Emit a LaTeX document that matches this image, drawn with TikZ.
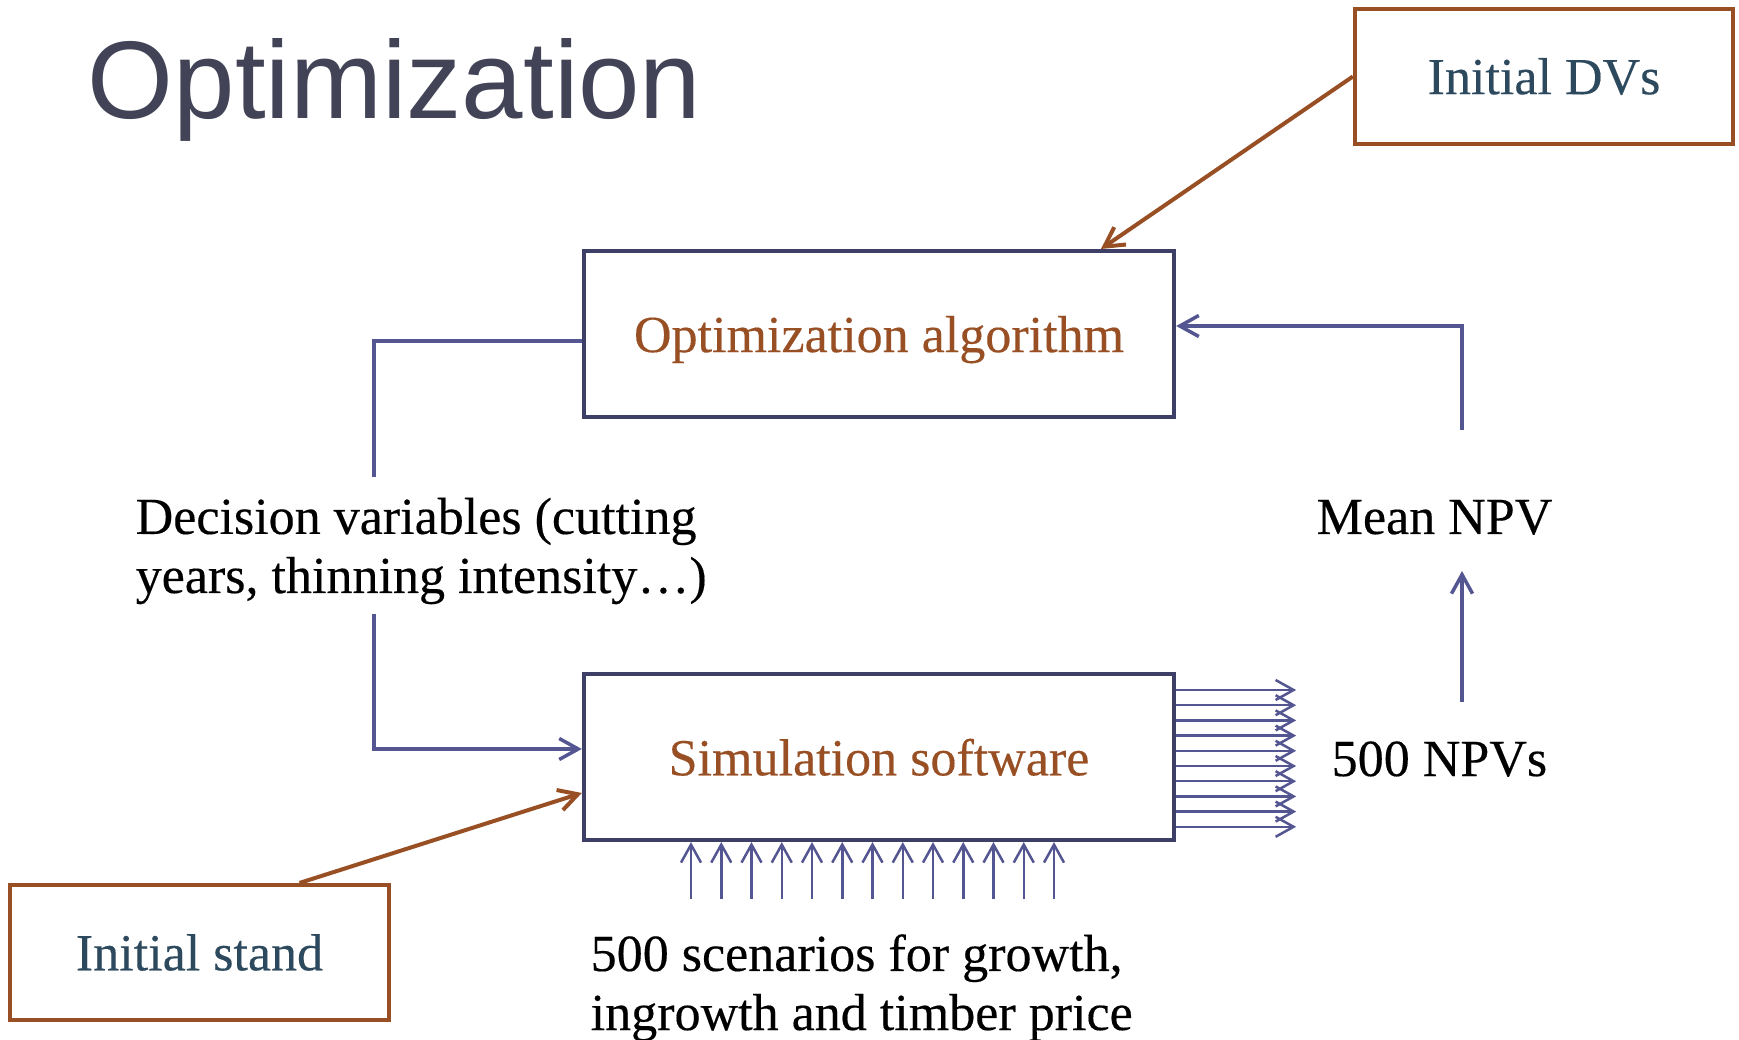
\documentclass[tikz,border=0pt]{standalone}
\usepackage{fontspec}
\setmainfont{Liberation Serif}[UprightFeatures={FakeBold=0.3}]
\newfontfamily\titlefont{Liberation Sans}
\usetikzlibrary{arrows.meta,calc}
\definecolor{titlegray}{RGB}{66,67,86}
\definecolor{navy}{RGB}{62,63,102}
\definecolor{flow}{RGB}{84,86,146}
\definecolor{rust}{RGB}{152,79,36}
\definecolor{slate}{RGB}{44,73,94}

\begin{document}
\begin{tikzpicture}[x=0.01cm, y=-0.01cm,
		every node/.style={font=\fontsize{14.8}{16.8}\selectfont},
		box/.style={draw=navy, line width=0.4mm, minimum width=5.9cm, minimum height=1.66cm, inner sep=0pt, text depth=0pt, text=rust},
		inbox/.style={draw=rust, line width=0.4mm, minimum width=3.78cm, minimum height=1.35cm, inner sep=0pt, text=slate},
		txt/.style={anchor=base west, inner sep=0pt, align=left},
		flowline/.style={draw=flow, line width=0.35mm},
		flowarrow/.style={flowline, -{Straight Barb[length=1.9mm, width=2.1mm]}},
		rustarrow/.style={draw=rust, line width=0.4mm, -{Straight Barb[length=1.9mm, width=2.1mm]}},
		fan/.style={draw=flow, line width=0.25mm, -{Straight Barb[length=1.8mm, width=2mm]}}]
		    \useasboundingbox (0,0) rectangle (1739,1040);

					\node[txt, font=\titlefont\fontsize{31.4}{34}\selectfont, text=titlegray] (title) at (87,119) {Optimization};

					\node[box] (optalg) at (879,334) {Optimization algorithm};
					\node[box] (simsw) at (879,757) {Simulation software};
					\node[inbox] (initdv) at (1544,76.5) {Initial DVs};
					\node[inbox] (initstand) at (199.5,952.5) {Initial stand};

					\node[txt] (decvar) at (135,593) {Decision variables (cutting\\years, thinning intensity…)};
					\node[txt] (meannpv) at (1316,534) {Mean NPV};
					\node[txt] (npvs) at (1331,776) {500 NPVs};
					\node[txt] (scen) at (590,1030) {500 scenarios for growth,\\ingrowth and timber price};

					\coordinate (dvtop) at (374,477);
					\coordinate (dvbot) at (374,614);
					\coordinate (npvtop) at (1462,430);
					\coordinate (npvbot) at (1462,702);

			    \draw[rustarrow] (initdv.west) -- ($(optalg.north)+(222,0)$); % DVs to algorithm
					\draw[rustarrow] ($(initstand.north)+(100,0)$) -- ($(simsw.west)+(0,36)$); % stand to simulation

					\draw[flowline] (dvtop) |- ($(optalg.west)+(0,7)$); % algorithm to decision variables
					\draw[flowarrow] (dvbot) |- ($(simsw.west)+(0,-8)$); % decision variables to simulation
					\draw[flowarrow] (npvbot) -- ++(0,-131); % NPVs to mean
					\draw[flowarrow] (npvtop) |- ($(optalg.east)+(0,-8)$); % mean back to algorithm

					\foreach \i in {0,...,9}
						\draw[fan] ($(simsw.east)+(0,-67+15.2*\i)$) -- ++(120,0); % outputs
					\foreach \i in {0,...,12}
						\draw[fan] ($(simsw.south)+(-188+30.25*\i,57)$) -- ++(0,-57); % scenarios

		  \end{tikzpicture}
\end{document}
